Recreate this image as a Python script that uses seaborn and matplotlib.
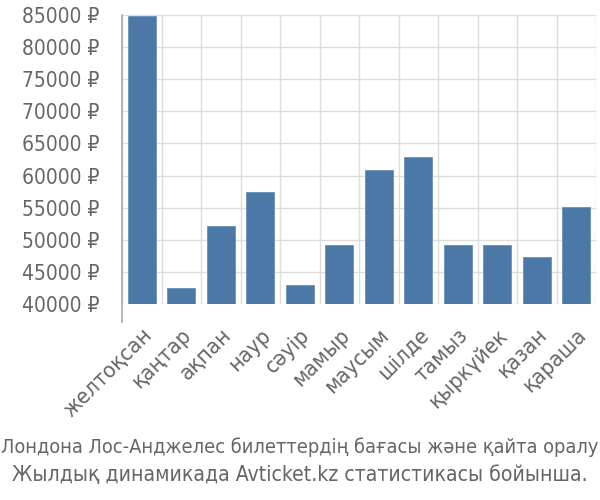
import matplotlib
matplotlib.use("Agg")
import matplotlib.pyplot as plt
import seaborn as sns
import pandas as pd
from matplotlib.ticker import FixedLocator

months = ["желтоқсан", "қаңтар", "ақпан", "наур", "сәуір", "мамыр",
          "маусым", "шілде", "тамыз", "қыркүйек", "қазан", "қараша"]
prices = [84900, 42500, 52200, 57500, 42900, 49200,
          60800, 62900, 49200, 49200, 47300, 55100]
yticks = [40000, 45000, 50000, 55000, 60000, 65000, 70000, 75000, 80000, 85000]
title_lines = ["Лондона Лос-Анджелес билеттердің бағасы және қайта оралу",
               "Жылдық динамикада Avticket.kz статистикасы бойынша."]

sns.set_theme(style="white")
plt.rcParams['font.family'] = ['DejaVu Sans']
plt.rcParams['font.stretch'] = 'condensed'

df = pd.DataFrame({"month": months, "price": prices})

fig = plt.figure(figsize=(6, 5), dpi=100)
ax = fig.add_axes([122/600, 1-304/500, 474/600, 289/500])
sns.barplot(data=df, x="month", y="price", color="#4c78a8", saturation=1,
            width=0.7, ax=ax, edgecolor="#6a8fb8", linewidth=0.6, zorder=3)

ax.set_ylim(40000, 85000)
ax.set_xlim(-0.5, len(months) - 0.5)
ax.set_yticks(yticks)
ax.set_yticklabels([f"{v} ₽" for v in yticks])
ax.grid(axis="y", color="#dddddd", linewidth=1, zorder=0)
ax.xaxis.set_minor_locator(FixedLocator([i - 0.5 for i in range(len(months) + 1)]))
ax.grid(axis="x", which="minor", color="#dddddd", linewidth=1, zorder=0)
ax.tick_params(axis="x", which="minor", length=13, color="#dddddd", width=1)
ax.tick_params(axis="x", which="major", length=0, pad=15, labelsize=16, labelcolor="#666666")
ax.tick_params(axis="y", which="major", length=14.4, color="#dddddd", width=1,
               pad=2, labelsize=15, labelcolor="#666666")
for lbl in ax.get_xticklabels():
    lbl.set_rotation(45)
    lbl.set_ha("right")
    lbl.set_rotation_mode("anchor")
ax.set_xlabel("")
ax.set_ylabel("")
for s in ["top", "right", "bottom"]:
    ax.spines[s].set_visible(False)
ax.spines["left"].set_color("#aaaaaa")
ax.spines["left"].set_linewidth(1.2)
ax.spines["left"].set_bounds(37200, 85000)

fig.text(0.5, 1-447/500, title_lines[0], ha="center", va="center",
         fontsize=14.3, color="#666666")
fig.text(0.5, 1-475/500, title_lines[1], ha="center", va="center",
         fontsize=15.2, color="#666666")

fig.savefig("out.png", dpi=100)
